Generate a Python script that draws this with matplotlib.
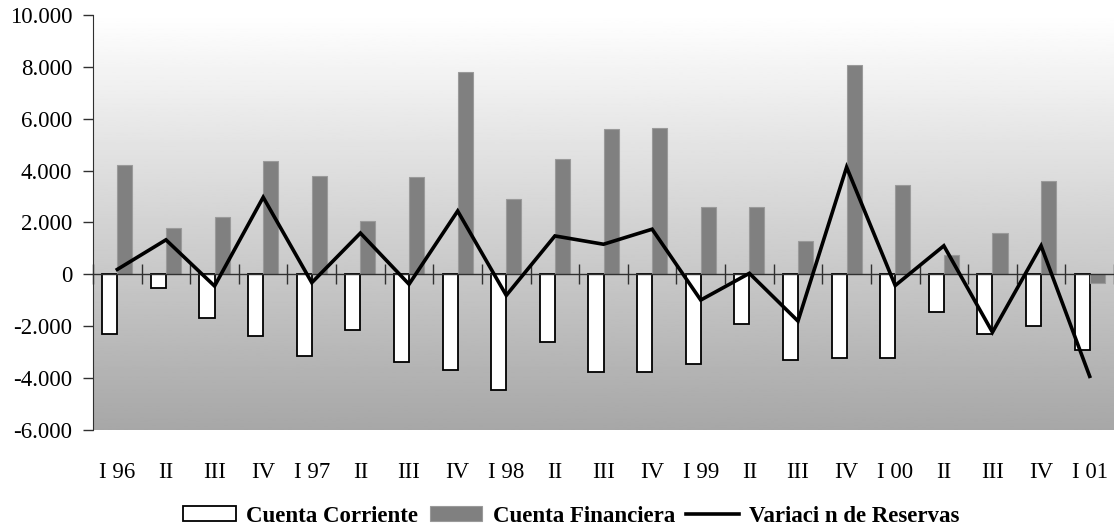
import numpy as np
import matplotlib
matplotlib.use("Agg")
import matplotlib.pyplot as plt
from matplotlib.ticker import FuncFormatter, MultipleLocator

# Balanza de pagos trimestral, 1996-2001 (millones)
quarters = ["I 96", "II", "III", "IV",
            "I 97", "II", "III", "IV",
            "I 98", "II", "III", "IV",
            "I 99", "II", "III", "IV",
            "I 00", "II", "III", "IV",
            "I 01"]
cuenta_corriente = [-2300, -530, -1680, -2390,
                    -3160, -2140, -3390, -3680,
                    -4460, -2590, -3780, -3780,
                    -3450, -1900, -3290, -3220,
                    -3220, -1440, -2290, -2000,
                    -2900]
cuenta_financiera = [4200, 1800, 2200, 4350,
                     3800, 2050, 3750, 7800,
                     2900, 4450, 5600, 5650,
                     2600, 2600, 1300, 8050,
                     3450, 750, 1600, 3600,
                     -350]
variacion_reservas = [190, 1330, -450, 2970,
                      -320, 1590, -380, 2440,
                      -810, 1480, 1160, 1740,
                      -990, 40, -1800, 4130,
                      -430, 1100, -2230, 1100,
                      -3930]

plt.rcParams["font.family"] = ["Liberation Serif", "DejaVu Serif"]

fig = plt.figure(figsize=(11.14, 5.29), dpi=100)
ax = fig.add_axes([0.0835, 0.187, 0.9165, 0.785])

x = np.arange(len(quarters))
bw = 0.31

# vertical grey gradient behind the plot
grad = np.linspace(1.0, 0.655, 256).reshape(-1, 1)
ax.imshow(grad, cmap="gray", vmin=0, vmax=1, aspect="auto",
          extent=[0, 1, 0, 1], transform=ax.transAxes, zorder=0)

b1 = ax.bar(x - bw / 2, cuenta_corriente, width=bw, color="white",
            edgecolor="black", linewidth=1.3, zorder=2)
b2 = ax.bar(x + bw / 2, cuenta_financiera, width=bw, color="#808080",
            edgecolor="#9a9a9a", linewidth=0.8, zorder=2)
ln, = ax.plot(x, variacion_reservas, color="black", linewidth=2.6, zorder=4,
              solid_joinstyle="miter")

ax.set_xlim(-0.5, len(quarters) - 0.5)
ax.set_ylim(-6000, 10000)
ax.yaxis.set_major_locator(MultipleLocator(2000))
ax.yaxis.set_major_formatter(FuncFormatter(lambda v, p: f"{v:,.0f}".replace(",", ".")))

for s in ("top", "right"):
    ax.spines[s].set_visible(False)
ax.spines["left"].set_color("#303030")
ax.spines["left"].set_zorder(5)
ax.spines["bottom"].set_position(("data", 0))
ax.spines["bottom"].set_color("#303030")
ax.spines["bottom"].set_linewidth(1.0)
ax.spines["bottom"].set_zorder(3)

# cross ticks on the zero line at the category boundaries
ax.set_xticks(np.arange(len(quarters) + 1) - 0.5)
ax.tick_params(axis="x", direction="inout", length=14, width=1.0,
               color="#303030", labelbottom=False)
ax.tick_params(axis="y", direction="out", length=7, width=1.0,
               color="#303030", labelsize=16.5, pad=8)

# category labels below the plot area
sec = ax.secondary_xaxis("bottom")
sec.set_xticks(x)
sec.set_xticklabels(quarters)
sec.tick_params(length=0, labelsize=16.5, pad=23)
sec.spines["bottom"].set_visible(False)

fig.legend([b1, b2, ln],
           ["Cuenta Corriente", "Cuenta Financiera", "Variaci n de Reservas"],
           loc="center", bbox_to_anchor=(0.513, 0.024),
           ncol=3, frameon=False, handlelength=2.3, handleheight=0.65,
           handletextpad=0.45, columnspacing=0.5,
           prop={"size": 16.5, "weight": "bold"})

fig.savefig("out.png", dpi=100)
